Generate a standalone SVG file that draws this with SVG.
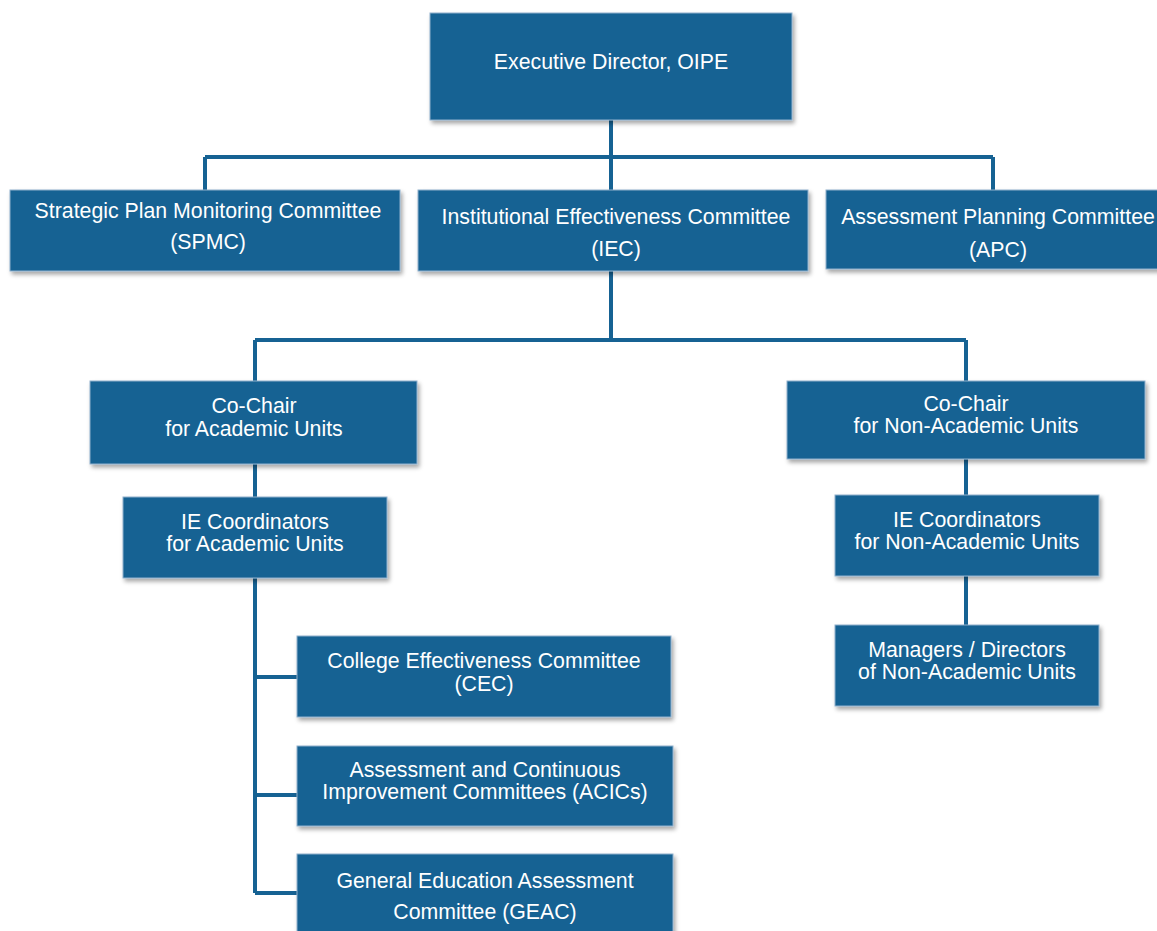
<svg xmlns="http://www.w3.org/2000/svg" width="1157" height="931" viewBox="0 0 1157 931">
<defs>
<filter id="sh" x="-10%" y="-10%" width="125%" height="140%">
<feDropShadow dx="2" dy="3" stdDeviation="2" flood-color="#000" flood-opacity="0.35"/>
</filter>
</defs>
<style>
.box{fill:#166293;stroke:#8fb0cc;stroke-width:1;filter:url(#sh)}
.t{font-family:"Liberation Sans",Arial,sans-serif;font-size:21.3px;fill:#fff;text-anchor:middle}
.c{stroke:#166293;stroke-width:4;fill:none}
</style>
<rect width="1157" height="931" fill="#fff"/>
<g id="connectors">
<path class="c" d="M611 120V190M205 157H993M205 157V190M993 157V190"/>
<path class="c" d="M611 271V340M255 340H966M255 340V381M966 340V381"/>
<path class="c" d="M255 464V497M255 578V893M255 677H297M255 795H297M255 893H297"/>
<path class="c" d="M966 459V495M966 576V625"/>
</g>
<g id="exec"><rect class="box" x="430" y="13" width="362" height="107"/><text class="t" x="611" y="69">Executive Director, OIPE</text></g>
<g id="spmc"><rect class="box" x="10" y="190" width="390" height="81"/><text class="t" x="208" y="218">Strategic Plan Monitoring Committee</text><text class="t" x="208" y="249">(SPMC)</text></g>
<g id="iec"><rect class="box" x="418" y="190" width="390" height="81"/><text class="t" x="616" y="224">Institutional Effectiveness Committee</text><text class="t" x="616" y="256">(IEC)</text></g>
<g id="apc"><rect class="box" x="826" y="190" width="340" height="79"/><text class="t" x="998" y="224">Assessment Planning Committee</text><text class="t" x="998" y="257">(APC)</text></g>
<g id="cochair-acad"><rect class="box" x="90" y="381" width="327" height="83"/><text class="t" x="254" y="413">Co-Chair</text><text class="t" x="254" y="436">for Academic Units</text></g>
<g id="cochair-nonacad"><rect class="box" x="787" y="381" width="358" height="78"/><text class="t" x="966" y="411">Co-Chair</text><text class="t" x="966" y="433">for Non-Academic Units</text></g>
<g id="iecoord-acad"><rect class="box" x="123" y="497" width="264" height="81"/><text class="t" x="255" y="529">IE Coordinators</text><text class="t" x="255" y="551">for Academic Units</text></g>
<g id="iecoord-nonacad"><rect class="box" x="835" y="495" width="264" height="81"/><text class="t" x="967" y="527">IE Coordinators</text><text class="t" x="967" y="549">for Non-Academic Units</text></g>
<g id="managers"><rect class="box" x="835" y="625" width="264" height="81"/><text class="t" x="967" y="657">Managers / Directors</text><text class="t" x="967" y="679">of Non-Academic Units</text></g>
<g id="cec"><rect class="box" x="297" y="636" width="374" height="81"/><text class="t" x="484" y="668">College Effectiveness Committee</text><text class="t" x="484" y="691">(CEC)</text></g>
<g id="acic"><rect class="box" x="297" y="746" width="376" height="80"/><text class="t" x="485" y="777">Assessment and Continuous</text><text class="t" x="485" y="799">Improvement Committees (ACICs)</text></g>
<g id="geac"><rect class="box" x="297" y="854" width="376" height="80"/><text class="t" x="485" y="888">General Education Assessment</text><text class="t" x="485" y="919">Committee (GEAC)</text></g>
</svg>
